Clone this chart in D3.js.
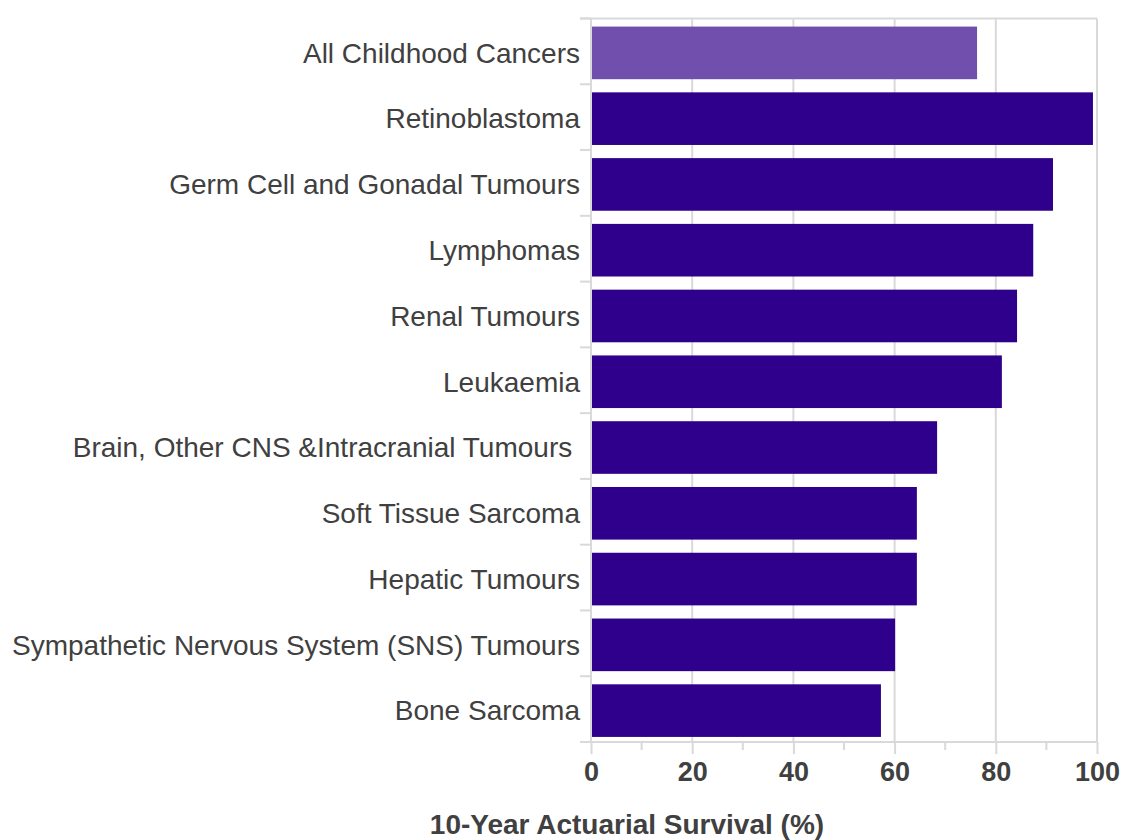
<!DOCTYPE html>
<html>
<head>
<meta charset="utf-8">
<script src="https://cdn.jsdelivr.net/npm/d3@7"></script>
<style>
  body { margin: 0; background: #fff; }
  text { font-family: "Liberation Sans", Arial, sans-serif; fill: #404040; }
</style>
</head>
<body>
<div id="chart"></div>
<script>
var categories = [
	'All Childhood Cancers',
	'Retinoblastoma',
	'Germ Cell and Gonadal Tumours',
	'Lymphomas',
	'Renal Tumours',
	'Leukaemia',
	'Brain, Other CNS &Intracranial Tumours ',
	'Soft Tissue Sarcoma',
	'Hepatic Tumours',
	'Sympathetic Nervous System (SNS) Tumours',
	'Bone Sarcoma'
];
var survival = [76.3, 99.2, 91.3, 87.4, 84.2, 81.2, 68.4, 64.4, 64.4, 60.1, 57.3];
var x_ticks = [0, 20, 40, 60, 80, 100];
var x_minor = [10, 30, 50, 70, 90];

var chart_width = 1126;
var chart_height = 840;
var plot_left = 591, plot_right = 1097, plot_top = 18.5, plot_bottom = 742;
var grid_color = '#d9d9d9';

var svg = d3.select('#chart')
			.append('svg')
			.attr('width', chart_width)
			.attr('height', chart_height);

// scales
var x_scale = d3.scaleLinear()
				.domain([0, 100])
				.range([plot_left, plot_right]);
var y_scale = d3.scaleBand()
				.domain(categories)
				.range([plot_top, plot_bottom])
				.paddingInner(0.2)
				.paddingOuter(0.1);

// vertical grid lines
svg.selectAll('.grid')
	.data(x_ticks)
	.enter()
	.append('line')
	.attr('x1', function(d){ return x_scale(d); })
	.attr('x2', function(d){ return x_scale(d); })
	.attr('y1', plot_top)
	.attr('y2', plot_bottom)
	.attr('stroke', grid_color)
	.attr('stroke-width', 2);

// top border
svg.append('line')
	.attr('x1', plot_left - 11).attr('x2', plot_right)
	.attr('y1', plot_top).attr('y2', plot_top)
	.attr('stroke', grid_color).attr('stroke-width', 2);

// y ticks at band boundaries
var bounds = categories.map(function(c){ return y_scale(c) - y_scale.step() * y_scale.paddingInner() / 2; });
bounds.push(plot_bottom);
svg.selectAll('.ytick')
	.data(bounds)
	.enter()
	.append('line')
	.attr('x1', plot_left - 11).attr('x2', plot_left)
	.attr('y1', function(d){ return d; })
	.attr('y2', function(d){ return d; })
	.attr('stroke', grid_color).attr('stroke-width', 2);

// bars (nudged down slightly, as in the original)
svg.selectAll('rect')
	.data(survival)
	.enter()
	.append('rect')
	.attr('x', x_scale(0) + 1)
	.attr('y', function(d, i){ return y_scale(categories[i]) + 1.5; })
	.attr('width', function(d){ return x_scale(d) - x_scale(0) - 1; })
	.attr('height', y_scale.bandwidth())
	.attr('fill', function(d, i){ return i === 0 ? '#704fad' : '#2e008b'; });

// category labels
svg.selectAll('.cat')
	.data(categories)
	.enter()
	.append('text')
	.attr('x', plot_left - 11)
	.attr('y', function(d){ return y_scale(d) + 1.5 + y_scale.bandwidth() / 2; })
	.attr('dy', '0.35em')
	.attr('text-anchor', 'end')
	.style('white-space', 'pre')
	.style('font-size', '28px')
	.text(function(d){ return d; });

// x axis
var x_axis = d3.axisBottom(x_scale)
				.tickValues(x_ticks)
				.tickSize(12)
				.tickPadding(8);
var gx = svg.append('g')
	.attr('transform', 'translate(0,' + plot_bottom + ')')
	.call(x_axis);
gx.select('.domain').remove();
gx.selectAll('line').attr('stroke', grid_color).attr('stroke-width', 2);
gx.selectAll('text')
	.style('font-size', '27px')
	.style('font-weight', 'bold')
	.attr('fill', '#404040');

svg.append('line')
	.attr('x1', plot_left - 11).attr('x2', plot_right)
	.attr('y1', plot_bottom).attr('y2', plot_bottom)
	.attr('stroke', grid_color).attr('stroke-width', 2);

svg.selectAll('.minor')
	.data(x_minor)
	.enter()
	.append('line')
	.attr('x1', function(d){ return x_scale(d); })
	.attr('x2', function(d){ return x_scale(d); })
	.attr('y1', plot_bottom)
	.attr('y2', plot_bottom + 8)
	.attr('stroke', grid_color).attr('stroke-width', 2);

// axis title
svg.append('text')
	.attr('x', 627)
	.attr('y', 834)
	.attr('text-anchor', 'middle')
	.style('font-size', '28px')
	.style('font-weight', 'bold')
	.text('10-Year Actuarial Survival (%)');
</script>
</body>
</html>
